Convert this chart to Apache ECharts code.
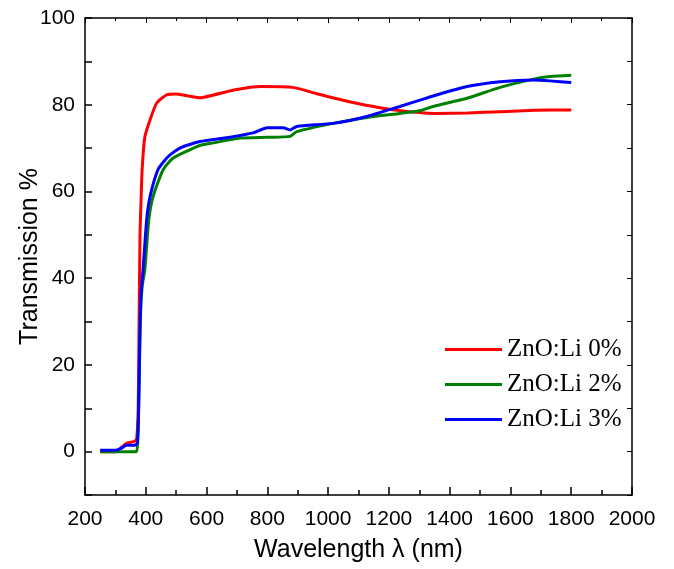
<!DOCTYPE html>
<html>
<head>
<meta charset="utf-8">
<script src="https://cdn.jsdelivr.net/npm/echarts@6/dist/echarts.min.js"></script>
<style>
  html, body { margin: 0; padding: 0; background: #fff; }
  #chart { width: 674px; height: 569px; }
</style>
</head>
<body>
<div id="chart"></div>
<script>
// wavelength (nm) / transmission (%)
const li0X = [250, 300, 320, 340, 360, 370, 375, 378, 381, 384, 388, 397, 414, 436, 469, 500, 550, 580, 620, 690, 780, 885, 960, 1070, 1180, 1240, 1300, 1350, 1460, 1570, 1680, 1800]
const li0Y = [0, 0, 1, 2, 2.3, 3, 10, 30, 50, 57, 65, 72.6, 76.5, 80.4, 82.3, 82.5, 81.9, 81.6, 82.2, 83.4, 84.2, 84, 82.6, 80.7, 79.2, 78.6, 78.2, 78, 78.1, 78.4, 78.7, 78.8]

const li2X = [250, 300, 360, 370, 374, 378, 382, 388, 397, 410, 424, 457, 490, 545, 578, 622, 710, 800, 875, 897, 1016, 1148, 1236, 1300, 1345, 1457, 1566, 1676, 1730, 1800]
const li2Y = [0, 0, 0, 0, 3, 15, 30, 38, 42, 53.5, 58.8, 65, 67.7, 69.6, 70.6, 71.2, 72.3, 72.5, 72.7, 73.8, 75.7, 77.3, 78, 78.6, 79.6, 81.5, 84, 85.9, 86.5, 86.8]

const li3X = [250, 300, 320, 335, 365, 372, 376, 380, 384, 391, 403, 414, 440, 473, 512, 578, 677, 753, 800, 852, 875, 897, 1016, 1127, 1236, 1300, 1345, 1457, 1566, 1676, 1730, 1800]
const li3Y = [0.3, 0.3, 0.8, 1.5, 1.5, 2, 8, 25, 36, 42, 53.5, 58.8, 65, 68, 70, 71.5, 72.5, 73.5, 74.7, 74.7, 74.2, 75, 75.7, 77.3, 79.6, 81, 82, 84.2, 85.3, 85.7, 85.5, 85.1]

const NAMES = ['ZnO:Li 0%', 'ZnO:Li 2%', 'ZnO:Li 3%']
const COLORS = ['#ff0000', '#008000', '#0000ff']

const pairs = (xs, ys) => xs.map((x, i) => [x, ys[i]])

const AXIS = { onZero: false, lineStyle: { color: '#000', width: 1.5 } }
const SANS = 'Liberation Sans, Arial, sans-serif'

const chart = echarts.init(document.getElementById('chart'))

chart.setOption({
  animation: false,
  grid: { left: 85, right: 42, top: 18, bottom: 74, outerBoundsMode: 'none', containLabel: false },
  legend: {
    orient: 'vertical',
    left: 440,
    top: 332,
    itemGap: 10,
    itemWidth: 57,
    itemHeight: 3,
    icon: 'rect',
    textStyle: { fontFamily: 'Liberation Serif, Times New Roman, serif', fontSize: 25, color: '#000' },
    data: NAMES,
  },
  xAxis: [
    {
      type: 'value',
      min: 200,
      max: 2000,
      interval: 200,
      name: 'Wavelength λ (nm)',
      nameLocation: 'middle',
      nameGap: 43,
      nameMoveOverlap: false,
      nameTextStyle: { fontFamily: SANS, fontSize: 25, color: '#000' },
      axisLine: AXIS,
      axisTick: { inside: true, length: 8, lineStyle: { color: '#000', width: 1.5 } },
      minorTick: { show: true, splitNumber: 2, length: 5, lineStyle: { color: '#000', width: 1.5 } },
      axisLabel: { fontFamily: SANS, fontSize: 21, color: '#000', margin: 14, formatter: (v) => String(v) },
      splitLine: { show: false },
    },
    {
      type: 'value',
      position: 'top',
      min: 200,
      max: 2000,
      interval: 200,
      axisLine: AXIS,
      axisTick: { inside: true, length: 5, lineStyle: { color: '#000', width: 1 } },
      minorTick: { show: true, splitNumber: 2, length: 3, lineStyle: { color: '#000', width: 1 } },
      axisLabel: { show: false },
      splitLine: { show: false },
    },
  ],
  yAxis: [
    {
      type: 'value',
      min: -10,
      max: 100,
      interval: 10,
      name: 'Transmission %',
      nameLocation: 'middle',
      nameGap: 42,
      nameMoveOverlap: false,
      nameTextStyle: { fontFamily: SANS, fontSize: 25, color: '#000' },
      axisLine: AXIS,
      axisTick: { inside: true, length: 7, lineStyle: { color: '#000', width: 1.5 } },
      axisLabel: {
        fontFamily: SANS,
        fontSize: 21,
        color: '#000',
        margin: 10,
        formatter: (v) => (v >= 0 && v % 20 === 0 ? String(v) : ''),
      },
      splitLine: { show: false },
    },
    {
      type: 'value',
      position: 'right',
      min: -10,
      max: 100,
      interval: 10,
      axisLine: AXIS,
      axisTick: { inside: true, length: 5, lineStyle: { color: '#000', width: 1 } },
      axisLabel: { show: false },
      splitLine: { show: false },
    },
  ],
  series: [
    [li0X, li0Y],
    [li2X, li2Y],
    [li3X, li3Y],
  ].map(([xs, ys], i) => ({
    name: NAMES[i],
    type: 'line',
    data: pairs(xs, ys),
    showSymbol: false,
    smooth: 0.2,
    lineStyle: { color: COLORS[i], width: 3 },
    itemStyle: { color: COLORS[i] },
  })),
})
</script>
</body>
</html>
